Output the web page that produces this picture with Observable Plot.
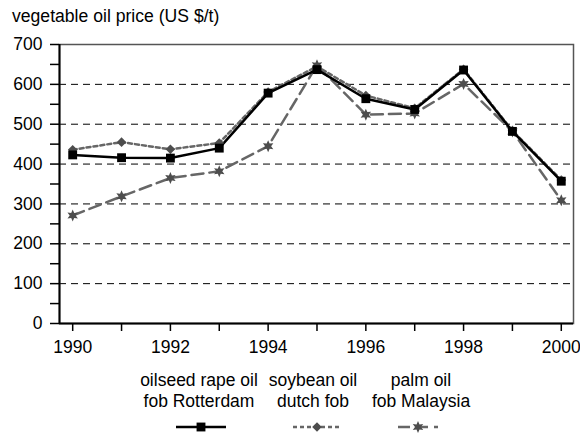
<!DOCTYPE html>
<html><head><meta charset="utf-8">
<script src="https://cdn.jsdelivr.net/npm/d3@7"></script>
<script src="https://cdn.jsdelivr.net/npm/@observablehq/plot@0.6"></script>
<style>
body{margin:0;background:#fff;font-family:"Liberation Sans",Arial,sans-serif;color:#000;width:580px;}
#title{height:30px;box-sizing:border-box;padding:6px 0 0 12px;font-size:17.6px;line-height:20px;white-space:nowrap;}
#legend{position:relative;height:68px;font-size:17.5px;line-height:21px;}
.col{position:absolute;top:5.3px;width:140px;text-align:center;white-space:nowrap;}
.sw{position:absolute;top:52px;}
</style>
</head><body>
<div id="title">vegetable oil price (US $/t)</div>
<div id="chart"></div>
<div id="legend"></div>
<script>
const years = [1990, 1991, 1992, 1993, 1994, 1995, 1996, 1997, 1998, 1999, 2000];
const rapeseed = [423, 416, 415, 440, 578, 637, 564, 537, 636, 482, 357];
const soybean = [436, 455, 437, 453, 581, 645, 572, 540, 638, 484, 360];
const palm = [271, 319, 365, 382, 445, 648, 524, 527, 601, 482, 309];
const seriesNames = ["oilseed rape oil\nfob Rotterdam", "soybean oil\ndutch fob", "palm oil\nfob Malaysia"];
const gridValues = [100, 200, 300, 400, 500, 600];
const yTicks = d3.range(0, 701, 50);

const diamond = {draw(ctx, size){ const r = Math.sqrt(size/Math.PI); ctx.moveTo(0,-r); ctx.lineTo(r,0); ctx.lineTo(0,r); ctx.lineTo(-r,0); ctx.closePath(); }};
const star6 = {draw(ctx, size){ const r = Math.sqrt(size/Math.PI); const ri = r*0.5;
  for (let i=0;i<12;i++){ const a = Math.PI/6*i - Math.PI/2; const rr = i%2 ? ri : r; const x = rr*Math.cos(a), y = rr*Math.sin(a); if(i===0) ctx.moveTo(x,y); else ctx.lineTo(x,y);} ctx.closePath(); }};

const toRows = vals => years.map((year, i) => ({year, value: vals[i]}));
const rRows = toRows(rapeseed), sRows = toRows(soybean), pRows = toRows(palm);

const xMin = 1989.73, xMax = 2000.25;
const chart = Plot.plot({
  width: 580, height: 335,
  marginLeft: 59, marginRight: 7, marginTop: 14, marginBottom: 42,
  style: {fontFamily: '"Liberation Sans", Arial, sans-serif', fontSize: "17.5px", color: "#000", background: "#fff"},
  x: {domain: [xMin, xMax]},
  y: {domain: [0, 700]},
  marks: [
    Plot.ruleY(gridValues, {stroke: "#000", strokeWidth: 1, strokeDasharray: "7,5"}),
    Plot.frame({stroke: "#555", strokeWidth: 1.5}),
    Plot.axisX(years, {tickSize: 8, tickPadding: 9, tickFormat: d => d % 2 ? "" : String(d), label: null, strokeWidth: 1.5, fontSize: 17.5}),
    Plot.axisY(yTicks, {tickSize: 9, tickPadding: 8, tickFormat: d => d % 100 ? "" : String(d), label: null, strokeWidth: 1.5, fontSize: 17.5}),
    Plot.ruleX([xMin], {stroke: "#000", strokeWidth: 2}),
    Plot.ruleY([0], {stroke: "#000", strokeWidth: 2}),
    Plot.line(pRows, {x: "year", y: "value", stroke: "#666", strokeWidth: 2.5, strokeDasharray: "12,6"}),
    Plot.line(sRows, {x: "year", y: "value", stroke: "#666", strokeWidth: 2.5, strokeDasharray: "4,3"}),
    Plot.line(rRows, {x: "year", y: "value", stroke: "#000", strokeWidth: 2.5}),
    Plot.dot(pRows, {x: "year", y: "value", symbol: star6, r: 6, fill: "#4d4d4d", stroke: "none"}),
    Plot.dot(sRows, {x: "year", y: "value", symbol: diamond, r: 4.8, fill: "#4d4d4d", stroke: "none"}),
    Plot.dot(rRows, {x: "year", y: "value", symbol: "square", r: 5, fill: "#000", stroke: "none"})
  ]
});
document.getElementById("chart").appendChild(chart);

// legend
const legend = document.getElementById("legend");
const centers = [199, 313, 421];
const swatches = [
  {w: 50, stroke: "#000", dash: null, sym: "sq", fill: "#000"},
  {w: 48, stroke: "#666", dash: "4,3", sym: "di", fill: "#4d4d4d"},
  {w: 40, stroke: "#666", dash: "12,6", sym: "st", fill: "#4d4d4d"}
];
const swCenters = [201, 317, 418];
seriesNames.forEach((name, i) => {
  const d = document.createElement("div");
  d.className = "col";
  d.style.left = (centers[i] - 70) + "px";
  d.innerHTML = name.split("\n").join("<br>");
  legend.appendChild(d);
  const s = swatches[i];
  const svg = d3.create("svg").attr("width", s.w).attr("height", 20).attr("class", "sw")
    .style("left", (swCenters[i] - s.w/2) + "px");
  svg.append("line").attr("x1", 0).attr("x2", s.w).attr("y1", 10).attr("y2", 10)
    .attr("stroke", s.stroke).attr("stroke-width", 2.5).attr("stroke-dasharray", s.dash);
  const sym = s.sym === "sq" ? d3.symbolSquare : s.sym === "di" ? diamond : star6;
  const size = s.sym === "sq" ? Math.PI*25 : s.sym === "di" ? Math.PI*4.8*4.8 : Math.PI*36;
  svg.append("path").attr("transform", `translate(${s.w/2},10)`).attr("d", d3.symbol(sym, size)()).attr("fill", s.fill);
  legend.appendChild(svg.node());
});
</script>
</body></html>
